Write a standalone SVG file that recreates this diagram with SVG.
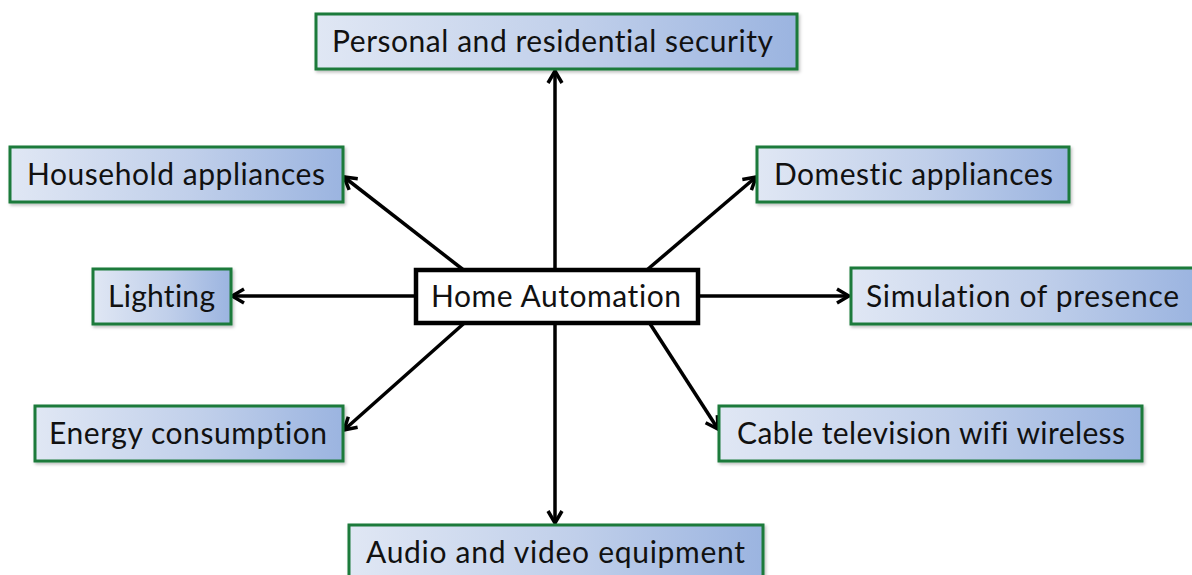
<svg xmlns="http://www.w3.org/2000/svg" width="1192" height="575" viewBox="0 0 1192 575">
<style>
.box{stroke:#1b7a3a;stroke-width:3;filter:url(#sh)}
.lbl{font-family:Lato,"Open Sans","Liberation Sans",sans-serif;font-size:30px;fill:#111;font-variant-ligatures:none;font-feature-settings:"liga" 0}
.conn{stroke:#000;stroke-width:3.5;fill:none;marker-end:url(#arr)}
</style>
<defs>
<linearGradient id="g" x1="0" y1="0" x2="1" y2="0">
<stop offset="0" stop-color="#e0e7f4"/>
<stop offset="0.55" stop-color="#c0cfea"/>
<stop offset="1" stop-color="#9bb4e0"/>
</linearGradient>
<filter id="sh" x="-5%" y="-10%" width="110%" height="130%">
<feDropShadow dx="1.5" dy="2" stdDeviation="1.5" flood-color="#000" flood-opacity="0.25"/>
</filter>
<marker id="arr" viewBox="0 0 18 18" refX="16" refY="9" markerWidth="18" markerHeight="18" markerUnits="userSpaceOnUse" orient="auto">
<path d="M4,2 L16,9 L4,16" fill="none" stroke="#000" stroke-width="3.5"/>
</marker>
</defs>
<rect width="1192" height="575" fill="#fff"/>
<g id="connectors">
<line class="conn" x1="555" y1="280" x2="555" y2="71"/>
<line class="conn" x1="470" y1="275" x2="344" y2="177"/>
<line class="conn" x1="641" y1="275" x2="756" y2="177"/>
<line class="conn" x1="430" y1="296" x2="232" y2="296"/>
<line class="conn" x1="690" y1="296" x2="849" y2="296"/>
<line class="conn" x1="470" y1="318" x2="344" y2="430"/>
<line class="conn" x1="645" y1="316" x2="718" y2="429"/>
<line class="conn" x1="555" y1="310" x2="555" y2="523"/>
</g>
<g id="center">
<rect x="416" y="270" width="282" height="53" fill="#fff" stroke="#000" stroke-width="4.5"/>
<text class="lbl" x="431" y="307" textLength="250">Home Automation</text>
</g>
<g id="security">
<rect class="box" x="316" y="14" width="481" height="55" fill="url(#g)"/>
<text class="lbl" x="332" y="52" textLength="441">Personal and residential security</text>
</g>
<g id="household">
<rect class="box" x="10" y="147" width="333" height="55" fill="url(#g)"/>
<text class="lbl" x="27" y="185" textLength="298">Household appliances</text>
</g>
<g id="lighting">
<rect class="box" x="93" y="269" width="138" height="55" fill="url(#g)"/>
<text class="lbl" x="108" y="307" textLength="107">Lighting</text>
</g>
<g id="energy">
<rect class="box" x="35" y="406" width="308" height="55" fill="url(#g)"/>
<text class="lbl" x="49" y="444" textLength="278">Energy consumption</text>
</g>
<g id="audio">
<rect class="box" x="349" y="525" width="414" height="55" fill="url(#g)"/>
<text class="lbl" x="366" y="563" textLength="379">Audio and video equipment</text>
</g>
<g id="domestic">
<rect class="box" x="757" y="147" width="312" height="55" fill="url(#g)"/>
<text class="lbl" x="774" y="185" textLength="279">Domestic appliances</text>
</g>
<g id="simulation">
<rect class="box" x="851" y="268" width="345" height="56" fill="url(#g)"/>
<text class="lbl" x="866" y="307" textLength="313">Simulation of presence</text>
</g>
<g id="cable">
<rect class="box" x="719" y="406" width="423" height="55" fill="url(#g)"/>
<text class="lbl" x="737" y="444" textLength="388">Cable television wifi wireless</text>
</g>
</svg>
